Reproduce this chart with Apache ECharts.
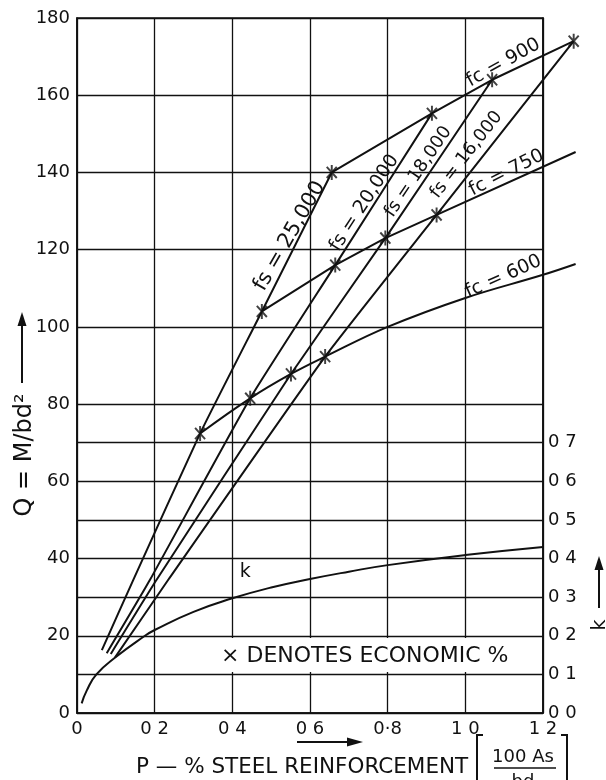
<!DOCTYPE html>
<html>
<head>
<meta charset="utf-8">
<script src="https://cdn.jsdelivr.net/npm/echarts@6/dist/echarts.min.js"></script>
<style>
  html, body { margin: 0; padding: 0; background: #fff; }
  #chart { width: 606px; height: 780px; }
</style>
</head>
<body>
<div id="chart"></div>
<script>
// Axis tick labels
const xTickLabels = ['0', '0 2', '0 4', '0 6', '0·8', '1 0', '1 2'];
const qTickLabels = ['0', '20', '40', '60', '80', '100', '120', '140', '160', '180'];
const kTickLabels = ['0 0', '0 1', '0 2', '0 3', '0 4', '0 5', '0 6', '0 7'];

// Steel stress lines: [p %, Q]
const fs25000 = [[0.064, 16.3], [0.145, 34.5], [0.317, 72.4], [0.476, 104], [0.656, 140]];
const fs20000 = [[0.0765, 15.5], [0.188, 34.5], [0.446, 81.5], [0.665, 116], [0.914, 155.3]];
const fs18000 = [[0.087, 15.3], [0.205, 34.5], [0.551, 87.8], [0.794, 123], [1.069, 164]];
const fs16000 = [[0.098, 14.4], [0.235, 34.5], [0.639, 92.3], [0.926, 129], [1.279, 174]];

// Concrete stress lines: [p %, Q]
const fc900 = [[0.656, 140], [0.914, 155.3], [1.069, 164], [1.279, 174]];
const fc750 = [[0.476, 104], [0.665, 116], [0.794, 123], [0.926, 129], [1.284, 145.3]];
const fc600 = [[0.317, 72.4], [0.446, 81.5], [0.551, 87.8], [0.639, 92.3], [0.8, 100], [1.0, 107.5], [1.2, 113.5], [1.284, 116.3]];

// Neutral axis factor k: [p %, k]
const kCurve = [[0.012, 0.025], [0.025, 0.058], [0.05, 0.10], [0.1, 0.145], [0.175, 0.20], [0.2, 0.215],
  [0.3, 0.262], [0.4, 0.297], [0.5, 0.325], [0.6, 0.347], [0.7, 0.366], [0.8, 0.383], [1.0, 0.409], [1.2, 0.43]];

// Economic percentages (× marks): [p %, Q]
const economic = [
  [0.317, 72.4], [0.476, 104], [0.656, 140],
  [0.446, 81.5], [0.665, 116], [0.914, 155.3],
  [0.551, 87.8], [0.794, 123], [1.069, 164],
  [0.639, 92.3], [0.926, 129], [1.279, 174]
];

// Curve captions
const curveNames = ['fs = 25,000', 'fs = 20,000', 'fs = 18,000', 'fs = 16,000', 'fc = 900', 'fc = 750', 'fc = 600', 'k'];
const legendNote = '× DENOTES ECONOMIC %';

// Extra k-scale rules drawn across the grid (Q values)
const kRules = [10, 30, 50, 70];

const FONT = 'DejaVu Sans';
const INK = '#111';

// Plot frame in pixels; the curves use a wider twin grid so they can run past p = 1.2
const PLOT_L = 77, PLOT_T = 18, PLOT_R = 543, PLOT_B = 713;
const X_MAX = 1.2, X_MAX_WIDE = 1.3;
const wideWidth = (PLOT_R - PLOT_L) * X_MAX_WIDE / X_MAX;

// Asterisk-like cross built from three thin bars
function starPath() {
  const L = 10, w = 1.3;
  let d = '';
  [48, 132, 90].forEach(function (deg) {
    const a = deg * Math.PI / 180;
    const c = Math.cos(a), s = Math.sin(a);
    const pts = [
      [ L * c - w * s,  L * s + w * c],
      [ L * c + w * s,  L * s - w * c],
      [-L * c + w * s, -L * s - w * c],
      [-L * c - w * s, -L * s + w * c]
    ];
    d += 'M' + pts.map(function (p) { return (p[0] + 12).toFixed(2) + ' ' + (p[1] + 12).toFixed(2); }).join(' L') + ' Z ';
  });
  return 'path://' + d;
}

function lineSeries(data, smooth, yIndex) {
  return {
    type: 'line', data: data, xAxisIndex: 1, yAxisIndex: yIndex,
    showSymbol: false, smooth: smooth, clip: false, silent: true,
    lineStyle: { color: INK, width: 2 }, z: 5
  };
}

const hiddenAxis = { show: false, axisLine: { show: false }, axisLabel: { show: false }, splitLine: { show: false }, axisTick: { show: false } };

const chart = echarts.init(document.getElementById('chart'), null, { renderer: 'canvas' });

const option = {
  animation: false,
  backgroundColor: '#fff',
  grid: [
    { left: PLOT_L, top: PLOT_T, width: PLOT_R - PLOT_L, height: PLOT_B - PLOT_T, show: true, borderColor: INK, borderWidth: 1.6 },
    { left: PLOT_L, top: PLOT_T, width: wideWidth, height: PLOT_B - PLOT_T, show: false }
  ],
  xAxis: [
    {
      gridIndex: 0, type: 'value', min: 0, max: X_MAX, interval: 0.2,
      axisLine: { show: true, lineStyle: { color: INK, width: 1.6 } },
      axisTick: { show: false },
      splitLine: { show: true, lineStyle: { color: INK, width: 1.3 } },
      axisLabel: {
        margin: 7, color: INK, fontFamily: FONT, fontSize: 18,
        formatter: function (v) { return xTickLabels[Math.round(v / 0.2)] || ''; }
      }
    },
    Object.assign({ gridIndex: 1, type: 'value', min: 0, max: X_MAX_WIDE }, hiddenAxis)
  ],
  yAxis: [
    {
      gridIndex: 0, type: 'value', min: 0, max: 180, interval: 20,
      axisLine: { show: true, lineStyle: { color: INK, width: 1.6 } },
      axisTick: { show: false },
      splitLine: { show: true, lineStyle: { color: INK, width: 1.3 } },
      axisLabel: {
        margin: 7, color: INK, fontFamily: FONT, fontSize: 18,
        formatter: function (v) { return qTickLabels[Math.round(v / 20)] || ''; }
      }
    },
    {
      gridIndex: 0, type: 'value', position: 'right', min: 0, max: 1.8, interval: 0.1,
      axisLine: { show: true, lineStyle: { color: INK, width: 1.6 } },
      axisTick: { show: false },
      splitLine: { show: false },
      axisLabel: {
        margin: 5, color: INK, fontFamily: FONT, fontSize: 18,
        formatter: function (v) {
          const i = Math.round(v / 0.1);
          return i < kTickLabels.length ? kTickLabels[i] : '';
        }
      }
    },
    Object.assign({ gridIndex: 1, type: 'value', min: 0, max: 180 }, hiddenAxis),
    Object.assign({ gridIndex: 1, type: 'value', min: 0, max: 1.8 }, hiddenAxis)
  ],
  series: [
    {
      type: 'line', data: [], silent: true, xAxisIndex: 0, yAxisIndex: 0,
      markLine: {
        silent: true, symbol: 'none', label: { show: false },
        lineStyle: { color: INK, width: 1.3, type: 'solid' },
        data: kRules.map(function (q) { return { yAxis: q }; })
      },
      markArea: {
        silent: true,
        itemStyle: { color: '#fff' },
        data: [[{ coord: [0.205, 10.6] }, { coord: [1.195, 19.4] }]]
      }
    },
    lineSeries(fs25000, 0.15, 2),
    lineSeries(fs20000, 0.15, 2),
    lineSeries(fs18000, 0.15, 2),
    lineSeries(fs16000, 0.15, 2),
    lineSeries(fc900, false, 2),
    lineSeries(fc750, false, 2),
    lineSeries(fc600, 0.4, 2),
    lineSeries(kCurve, 0.5, 3),
    {
      type: 'scatter', data: economic, silent: true, clip: false, xAxisIndex: 1, yAxisIndex: 2,
      symbol: starPath(), symbolKeepAspect: true, symbolSize: 15,
      itemStyle: { color: INK }, z: 6
    }
  ]
};
chart.setOption(option);

// Caption placement: [p, Q] of the text centre, angle in degrees, font size
const captionLayout = [
  [0.548, 123.5, 60, 21],
  [0.740, 132.1, 57, 19],
  [0.879, 140.2, 56, 18],
  [1.003, 144.6, 52, 18],
  [1.098, 168.4, 29, 19],
  [1.106, 139.9, 27, 19],
  [1.098, 113.0, 24, 19],
  [0.433, 36.5, 0, 19]
];

const graphics = [];
curveNames.forEach(function (name, i) {
  const lay = captionLayout[i];
  const px = chart.convertToPixel({ xAxisIndex: 0, yAxisIndex: 0 }, [lay[0], lay[1]]);
  graphics.push({
    type: 'text', x: px[0], y: px[1], rotation: lay[2] * Math.PI / 180, z: 20,
    style: { text: name, fill: INK, font: lay[3] + 'px "' + FONT + '"', align: 'center', verticalAlign: 'middle' }
  });
});
const notePx = chart.convertToPixel({ xAxisIndex: 0, yAxisIndex: 0 }, [0.741, 14.8]);
graphics.push({
  type: 'text', x: notePx[0], y: notePx[1], z: 20,
  style: { text: legendNote, fill: INK, font: '22px "' + FONT + '"', align: 'center', verticalAlign: 'middle' }
});

// Axis titles and arrows
const stroke = { stroke: INK, lineWidth: 2 };
graphics.push(
  { type: 'text', x: 25, y: 455, rotation: Math.PI / 2, z: 20,
    style: { text: 'Q = M/bd²', fill: INK, font: '24px "' + FONT + '"', align: 'center', verticalAlign: 'middle' } },
  { type: 'line', shape: { x1: 22, y1: 383, x2: 22, y2: 322 }, style: stroke },
  { type: 'polygon', shape: { points: [[22, 312], [17.5, 326], [26.5, 326]] }, style: { fill: INK } },

  { type: 'text', x: 600, y: 625, rotation: Math.PI / 2, z: 20,
    style: { text: 'k', fill: INK, font: '19px "' + FONT + '"', align: 'center', verticalAlign: 'middle' } },
  { type: 'line', shape: { x1: 599, y1: 608, x2: 599, y2: 566 }, style: stroke },
  { type: 'polygon', shape: { points: [[599, 556], [594.5, 570], [603.5, 570]] }, style: { fill: INK } },

  { type: 'line', shape: { x1: 297, y1: 742, x2: 350, y2: 742 }, style: stroke },
  { type: 'polygon', shape: { points: [[363, 742], [347, 737.5], [347, 746.5]] }, style: { fill: INK } },
  { type: 'text', x: 136, y: 767, z: 20,
    style: { text: 'P — % STEEL REINFORCEMENT', fill: INK, font: '21.5px "' + FONT + '"', align: 'left', verticalAlign: 'middle' } },
  { type: 'polyline', shape: { points: [[483, 735], [477, 735], [477, 784], [483, 784]] }, style: { stroke: INK, lineWidth: 2, fill: null } },
  { type: 'polyline', shape: { points: [[561, 735], [567, 735], [567, 784], [561, 784]] }, style: { stroke: INK, lineWidth: 2, fill: null } },
  { type: 'text', x: 523, y: 757, z: 20,
    style: { text: '100 As', fill: INK, font: '18px "' + FONT + '"', align: 'center', verticalAlign: 'middle' } },
  { type: 'line', shape: { x1: 494, y1: 768, x2: 556, y2: 768 }, style: { stroke: INK, lineWidth: 1.6 } },
  { type: 'text', x: 523, y: 782, z: 20,
    style: { text: 'bd', fill: INK, font: '18px "' + FONT + '"', align: 'center', verticalAlign: 'middle' } }
);

chart.setOption({ graphic: graphics });
</script>
</body>
</html>
